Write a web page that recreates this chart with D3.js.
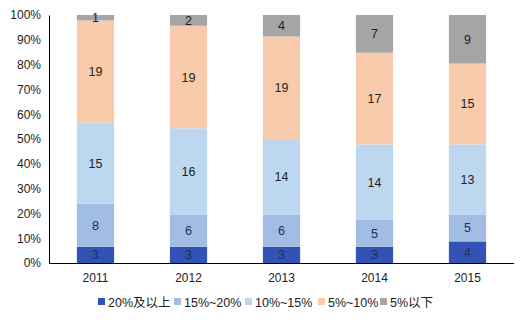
<!DOCTYPE html>
<html><head><meta charset="utf-8">
<script src="https://cdn.jsdelivr.net/npm/d3@7"></script>
<style>body{margin:0;background:#fff}svg{display:block;font-family:"Liberation Sans",Arial,sans-serif}</style>
</head><body>
<svg id="c" width="530" height="328"></svg>
<script>
const years = ["2011","2012","2013","2014","2015"];
const seriesNames = ["20%及以上","15%~20%","10%~15%","5%~10%","5%以下"];
const s20up = [3,3,3,3,4];
const s15to20 = [8,6,6,5,5];
const s10to15 = [15,16,14,14,13];
const s5to10 = [19,19,19,17,15];
const s5below = [1,2,4,7,9];
const colors = ["#3352b5","#a2bde3","#bdd7ee","#f8cbad","#a5a5a5"];
const yTicks = [0,0.1,0.2,0.3,0.4,0.5,0.6,0.7,0.8,0.9,1];

const seriesVals = [s20up,s15to20,s10to15,s5to10,s5below];
const data = years.map((y,i)=>{const o={year:y};seriesNames.forEach((n,j)=>o[n]=seriesVals[j][i]);return o;});
const stack = d3.stack().keys(seriesNames).offset(d3.stackOffsetExpand);
const layers = stack(data);

const svg = d3.select("#c");
const L=49,R=514,T=15,B=263;
const x = d3.scaleBand().domain(years).range([L,R]).paddingInner(0.6).paddingOuter(0.3);
const y = d3.scaleLinear().domain([0,1]).range([B,T]);

const g = svg.append("g");
layers.forEach((layer,j)=>{
  g.selectAll(null).data(layer).enter().append("rect")
    .attr("x",d=>x(d.data.year)).attr("width",x.bandwidth())
    .attr("y",d=>y(d[1])).attr("height",d=>y(d[0])-y(d[1]))
    .attr("fill",colors[j]);
  g.selectAll(null).data(layer).enter().append("text")
    .attr("x",d=>x(d.data.year)+x.bandwidth()/2)
    .attr("y",d=>(y(d[0])+y(d[1]))/2)
    .attr("dy","0.36em").attr("text-anchor","middle")
    .attr("font-size",12.5).attr("fill", j<2?"#1e2f5a":"#222")
    .text(d=>d.data[seriesNames[j]]);
});

const ya = svg.append("g").attr("transform",`translate(${L},0)`)
  .call(d3.axisLeft(y).tickValues(yTicks).tickFormat(d3.format(".0%")).tickSize(0).tickPadding(8));
ya.select(".domain").attr("stroke","#000");
ya.selectAll("text").attr("font-size",12).attr("fill","#222").attr("font-family","Liberation Sans, Arial, sans-serif");

const xa = svg.append("g").attr("transform",`translate(0,${B})`)
  .call(d3.axisBottom(x).tickSize(0).tickPadding(10));
xa.select(".domain").attr("stroke","#000").attr("d",`M${L},0.5H${R}`);
xa.selectAll("text").attr("font-size",12).attr("fill","#222").attr("font-family","Liberation Sans, Arial, sans-serif");

const legX = [98,174,245,318,380];
const lg = svg.append("g");
seriesNames.forEach((n,j)=>{
  lg.append("rect").attr("x",legX[j]).attr("y",298).attr("width",7).attr("height",7).attr("fill",colors[j]);
  lg.append("text").attr("x",legX[j]+10).attr("y",302).attr("dy","0.36em")
    .attr("font-size",12.5).attr("fill","#222")
    .attr("font-family","Liberation Sans, 'Noto Sans CJK SC', sans-serif").text(n);
});
</script>
</body></html>
